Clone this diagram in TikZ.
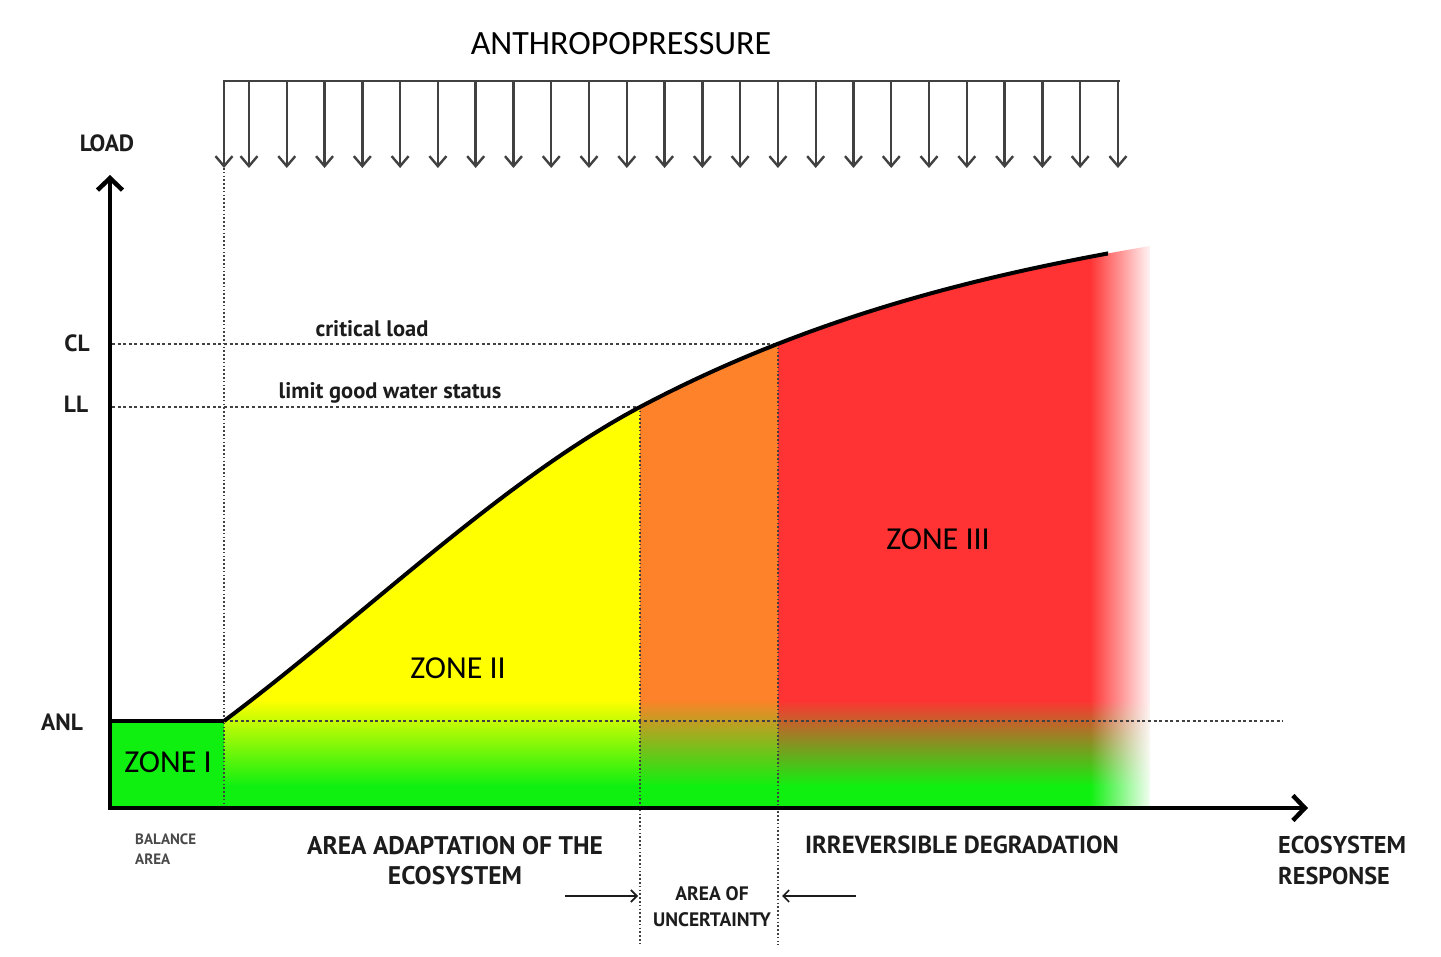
\documentclass[tikz,border=0pt]{standalone}
\usepackage{fontspec}
\setmainfont{Carlito}
\newfontfamily\labfont{PT Sans}
\usetikzlibrary{arrows.meta,fadings}
\definecolor{zgreen}{RGB}{16,240,16}
\definecolor{zyellow}{RGB}{255,255,0}
\definecolor{zorange}{RGB}{253,130,41}
\definecolor{zred}{RGB}{255,51,51}
\definecolor{ink}{RGB}{28,28,28}
\definecolor{grayline}{RGB}{65,65,65}
\tikzfading[name=fadeR, left color=transparent!100, right color=transparent!0]
\begin{document}
\begin{tikzpicture}[x=1pt,y=-1pt,
  dashline/.style={draw=grayline, line width=1.6pt, dash pattern=on 3pt off 2.6pt},
  dotline/.style={draw=grayline, line width=1.6pt, dash pattern=on 1.6pt off 2.2pt},
  loadarrow/.style={draw=grayline, line width=2.4pt, -{Straight Barb[length=10pt,width=17pt]}},
  axis/.style={draw=black, line width=4.5pt, -{Straight Barb[length=12pt,width=25pt]}},
  smallarrow/.style={draw=ink, line width=1.6pt, -{Straight Barb[length=6pt,width=12pt]}},
  zonelab/.style={font=\fontsize{32}{38}\selectfont, text=black, anchor=base, inner sep=0pt},
  toplab/.style={font=\fontsize{34}{40}\selectfont, text=black, anchor=base, inner sep=0pt},
  lab/.style={font=\labfont\bfseries\fontsize{25.5}{30}\selectfont, text=ink, anchor=base, inner sep=0pt},
  irrlab/.style={font=\labfont\bfseries\fontsize{24.7}{30}\selectfont, text=ink, anchor=base, inner sep=0pt},
  llab/.style={font=\labfont\bfseries\fontsize{24.3}{30}\selectfont, text=ink, anchor=base west, inner sep=0pt},
  smalllab/.style={font=\labfont\bfseries\fontsize{19.5}{24}\selectfont, text=ink, anchor=base, inner sep=0pt},
  tinylab/.style={font=\labfont\bfseries\fontsize{15}{18}\selectfont, text=ink!80, anchor=base west, inner sep=0pt},
  axlab/.style={font=\labfont\bfseries\fontsize{23.5}{28}\selectfont, text=ink, anchor=base, inner sep=0pt},
  curvelab/.style={font=\labfont\bfseries\fontsize{22.5}{26}\selectfont, text=ink, anchor=base, inner sep=0pt}
]
\useasboundingbox (0,0) rectangle (1441,957);
\fill[white] (0,0) rectangle (1441,957);

% key coordinates
\coordinate (O) at (110,808);
\coordinate (ytip) at (110,175);
\coordinate (xtip) at (1308,808);
\coordinate (s) at (224,721);
\coordinate (ll) at (640,407);
\coordinate (cl) at (778,345);
\coordinate (e) at (1150,246);

% zone I
\fill[zgreen] (110,721) rectangle (224,808);

% zones II, uncertainty, III
\begin{scope}
  \clip (s) .. controls (363,617) and (501,481) .. (ll) .. controls (810,317) and (980,275) .. (e) -- (1150,808) -- (224,808) -- cycle;
  \fill[zyellow] (224,190) rectangle (640,701);
  \fill[zorange] (640,190) rectangle (778,701);
  \fill[zred] (778,190) rectangle (1150,701);
  \shade[top color=zyellow, bottom color=zgreen] (224,700) rectangle (640,786);
  \shade[top color=zorange, bottom color=zgreen] (640,700) rectangle (778,786);
  \shade[top color=zred, bottom color=zgreen] (778,700) rectangle (1150,786);
  \fill[zgreen] (224,785) rectangle (1150,808);
\end{scope}

% fade to white on the right
\fill[white, path fading=fadeR, fit fading=true] (1090,190) rectangle (1153,812);

% reference lines
\coordinate (clL) at (112,344);
\coordinate (clR) at (778,344);
\coordinate (llL) at (112,407);
\coordinate (anlR) at (1283,721);
\draw[dashline] (clL) -- (clR);
\draw[dashline] (llL) -- (ll);
\draw[dashline] (s) -- (anlR);

\coordinate (v1t) at (224,168);
\coordinate (v1b) at (224,808);
\coordinate (v2b) at (640,945);
\coordinate (v3b) at (778,945);
\draw[dotline] (v1t) -- (v1b);
\draw[dotline] (ll) -- (v2b);
\draw[dotline] (clR) -- (v3b);

% zone I top edge and curve
\coordinate (anlL) at (110,721);
\draw[line width=4pt] (anlL) -- (s);
\begin{scope}
  \clip (0,0) rectangle (1108,957);
  \draw[line width=4pt] (s) .. controls (363,617) and (501,481) .. (ll) .. controls (810,317) and (980,275) .. (e);
\end{scope}

% axes
\coordinate (Oy) at (110,810.2);
\coordinate (Ox) at (107.8,808);
\draw[axis] (Oy) -- (ytip);
\draw[axis] (Ox) -- (xtip);

% anthropopressure
\coordinate (barL) at (224,81);
\coordinate (barR) at (1119,81);
\draw[grayline, line width=2.4pt, line cap=rect] (barL) -- (barR);
\coordinate (a0t) at (224,81);
\coordinate (a0b) at (224,168);
\draw[loadarrow] (a0t) -- (a0b);
\foreach \k in {0,...,23} {
  \coordinate (at\k) at ({249+37.78*\k},81);
  \coordinate (ab\k) at ({249+37.78*\k},168);
  \draw[loadarrow] (at\k) -- (ab\k);
}
\node[toplab] (anthro) at (621,55) {ANTHROPOPRESSURE};

% axis labels
\node[axlab] (load) at (107,152) {LOAD};
\node[axlab] (CLlab) at (77,352) {CL};
\node[axlab] (LLlab) at (76,413) {LL};
\node[axlab] (ANLlab) at (62,730) {ANL};

% curve labels
\node[curvelab] (crit) at (372,337) {critical load};
\node[curvelab] (limit) at (390,399) {limit good water status};

% zone labels
\node[zonelab] (z1) at (168,772) {ZONE I};
\node[zonelab] (z2) at (458,678) {ZONE II};
\node[zonelab] (z3) at (938,549) {ZONE III};

% bottom labels
\node[tinylab] (bal1) at (135,844) {BALANCE};
\node[tinylab] (bal2) at (135,864) {AREA};
\node[lab] (ad1) at (455,854) {AREA ADAPTATION OF THE};
\node[lab] (ad2) at (455,884) {ECOSYSTEM};
\node[irrlab] (irr) at (962,853) {IRREVERSIBLE DEGRADATION};
\node[llab] (eco1) at (1278,853) {ECOSYSTEM};
\node[llab] (eco2) at (1278,884) {RESPONSE};
\node[smalllab] (unc1) at (712,900) {AREA OF};
\node[smalllab] (unc2) at (712,926) {UNCERTAINTY};

% arrows to the area of uncertainty
\coordinate (la) at (565,896);
\coordinate (lb) at (638,896);
\coordinate (ra) at (856,896);
\coordinate (rb) at (782,896);
\draw[smallarrow] (la) -- (lb);
\draw[smallarrow] (ra) -- (rb);
\end{tikzpicture}
\end{document}
